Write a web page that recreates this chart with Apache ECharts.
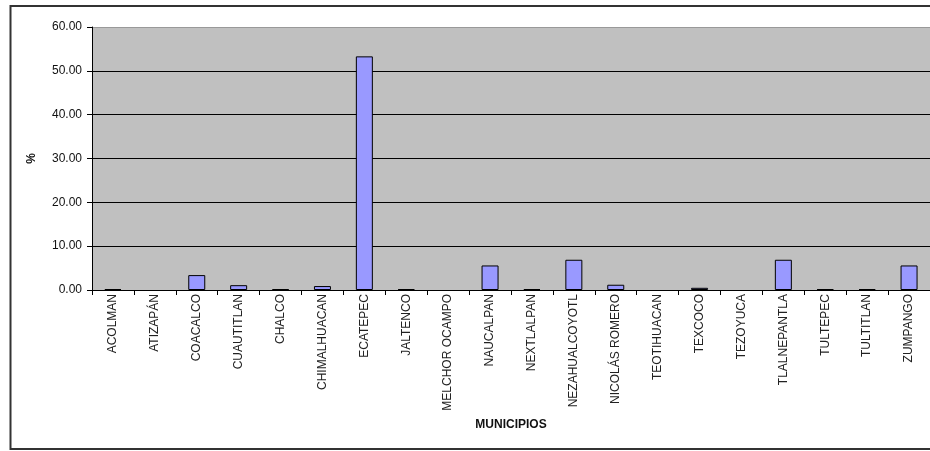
<!DOCTYPE html>
<html>
<head>
<meta charset="utf-8">
<script src="https://cdn.jsdelivr.net/npm/echarts@6/dist/echarts.min.js"></script>
<style>
html,body{margin:0;padding:0;background:#fff;}
#chart{width:930px;height:451px;}
</style>
</head>
<body>
<div id="chart"></div>
<script>
const categories = ['ACOLMAN','ATIZAPÁN','COACALCO','CUAUTITLAN','CHALCO','CHIMALHUACAN','ECATEPEC','JALTENCO','MELCHOR OCAMPO','NAUCALPAN','NEXTLALPAN','NEZAHUALCOYOTL','NICOLÁS ROMERO','TEOTIHUACAN','TEXCOCO','TEZOYUCA','TLALNEPANTLA','TULTEPEC','TULTITLAN','ZUMPANGO'];
const values = [0.2, 0, 3.4, 1.1, 0.2, 0.9, 53.3, 0.2, 0, 5.6, 0.2, 6.9, 1.2, 0, 0.5, 0, 6.9, 0.2, 0.2, 5.6];
const yTicks = { min: 0, max: 60, interval: 10 };

const font = 'Arial, "Liberation Sans", sans-serif';
const seriesData = values.map(v => v === 0
  ? {value: v, itemStyle: {borderWidth: 0, opacity: 0}}
  : {value: v});

const chart = echarts.init(document.getElementById('chart'), null, {renderer: 'canvas'});
chart.setOption({
  animation: false,
  backgroundColor: '#ffffff',
  graphic: [{
    type: 'rect',
    shape: {x: 10.5, y: 6, width: 1000, height: 443},
    style: {fill: 'none', stroke: '#333', lineWidth: 2},
    silent: true,
    z: -1
  }],
  grid: {
    left: 92,
    top: 27,
    width: 844,
    height: 263,
    show: true,
    backgroundColor: '#C0C0C0',
    borderWidth: 0
  },
  xAxis: {
    type: 'category',
    data: categories,
    name: 'MUNICIPIOS',
    nameLocation: 'middle',
    nameGap: 126,
    nameTextStyle: {fontFamily: font, fontSize: 12, fontWeight: 'bold', color: '#111'},
    axisLine: {lineStyle: {color: '#000', width: 1}},
    axisTick: {show: true, alignWithLabel: false, length: 5, lineStyle: {color: '#000'}},
    axisLabel: {rotate: 90, interval: 0, margin: 4, fontFamily: font, fontSize: 12, color: '#222'}
  },
  yAxis: {
    type: 'value',
    min: yTicks.min,
    max: yTicks.max,
    interval: yTicks.interval,
    name: '%',
    nameLocation: 'middle',
    nameRotate: 90,
    nameGap: 54,
    nameTextStyle: {fontFamily: font, fontSize: 12, fontWeight: 'bold', color: '#111'},
    axisLine: {show: true, lineStyle: {color: '#000', width: 1}},
    axisTick: {show: true, length: 5, lineStyle: {color: '#000'}},
    axisLabel: {margin: 10, fontFamily: font, fontSize: 12, color: '#111', formatter: v => v.toFixed(2)},
    splitLine: {show: true, lineStyle: {color: ['#000','#000','#000','#000','#000','#000','#999'], width: 1}}
  },
  series: [{
    type: 'bar',
    data: seriesData,
    barWidth: 17,
    itemStyle: {color: '#9999FF', borderColor: '#000', borderWidth: 1}
  }]
});
</script>
</body>
</html>
